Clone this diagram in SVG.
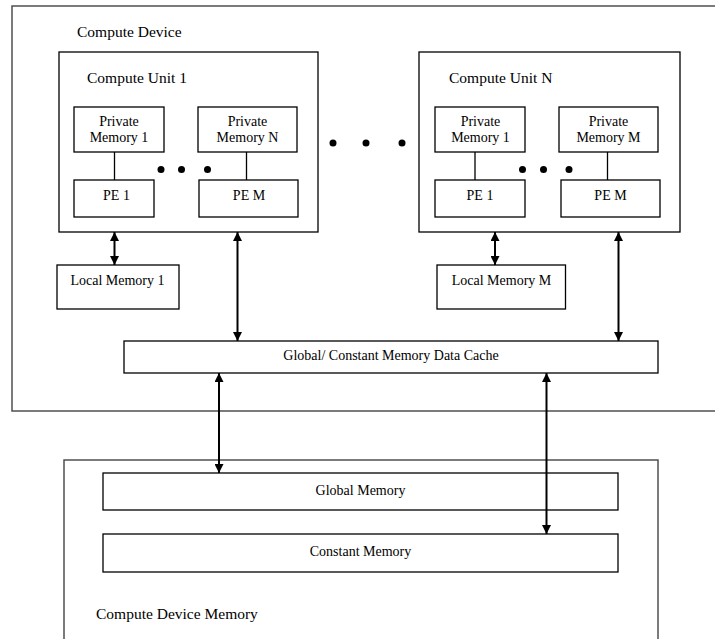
<svg xmlns="http://www.w3.org/2000/svg" width="715" height="639" viewBox="0 0 715 639">
<style>
.box{fill:none;stroke:#000;stroke-width:1.3}
.outer{fill:none;stroke:#444;stroke-width:1.4}
.t{font-family:"Liberation Serif","Times New Roman",serif;font-size:15.5px;fill:#000}
.l{font-family:"Liberation Serif","Times New Roman",serif;font-size:14px;fill:#000;text-anchor:middle}
.ln{stroke:#000;stroke-width:1.3}
.ar{stroke:#000;stroke-width:2;marker-start:url(#ah);marker-end:url(#ah)}
</style>
<defs>
<marker id="ah" viewBox="0 0 10 10" refX="10" refY="5" markerWidth="10" markerHeight="9" markerUnits="userSpaceOnUse" orient="auto-start-reverse">
<path d="M0,0 L10,5 L0,10 z" fill="#000"/>
</marker>
</defs>
<rect width="715" height="639" fill="#fff"/>

<g id="compute-device">
<rect class="outer" x="12" y="6" width="720" height="405"/>
<text class="t" x="77" y="37">Compute Device</text>
</g>

<g id="compute-unit-1">
<rect class="box" x="59" y="52" width="259" height="180"/>
<text class="t" x="87" y="83">Compute Unit 1</text>
</g>
<g id="cu1-private-memory-1">
<rect class="box" x="74" y="107" width="90" height="45"/>
<text class="l" x="119" y="126">Private</text>
<text class="l" x="119" y="142">Memory 1</text>
</g>
<g id="cu1-private-memory-n">
<rect class="box" x="198" y="107" width="99" height="45"/>
<text class="l" x="247.5" y="126">Private</text>
<text class="l" x="247.5" y="142">Memory N</text>
</g>
<g id="cu1-pe-1">
<rect class="box" x="74" y="180" width="80" height="37"/>
<text class="l" x="116.5" y="200">PE 1</text>
</g>
<g id="cu1-pe-m">
<rect class="box" x="199" y="180" width="99" height="37"/>
<text class="l" x="249" y="200">PE M</text>
</g>
<g id="cu1-dots">
<circle cx="161" cy="169.5" r="3.5"/>
<circle cx="181.5" cy="169.5" r="3.5"/>
<circle cx="207.5" cy="169.5" r="3.5"/>
</g>

<g id="unit-dots">
<circle cx="333" cy="143" r="3.5"/>
<circle cx="366" cy="143" r="3.5"/>
<circle cx="402" cy="143" r="3.5"/>
</g>

<g id="compute-unit-n">
<rect class="box" x="419" y="52" width="261" height="180"/>
<text class="t" x="449" y="83">Compute Unit N</text>
</g>
<g id="cun-private-memory-1">
<rect class="box" x="435" y="107" width="90" height="45"/>
<text class="l" x="480.5" y="126">Private</text>
<text class="l" x="480.5" y="142">Memory 1</text>
</g>
<g id="cun-private-memory-m">
<rect class="box" x="559" y="107" width="99" height="45"/>
<text class="l" x="608.5" y="126">Private</text>
<text class="l" x="608.5" y="142">Memory M</text>
</g>
<g id="cun-pe-1">
<rect class="box" x="435" y="180" width="90" height="37"/>
<text class="l" x="480" y="200">PE 1</text>
</g>
<g id="cun-pe-m">
<rect class="box" x="561" y="180" width="99" height="37"/>
<text class="l" x="610.5" y="200">PE M</text>
</g>
<g id="cun-dots">
<circle cx="522.5" cy="169.5" r="3.5"/>
<circle cx="543.5" cy="169.5" r="3.5"/>
<circle cx="569" cy="169.5" r="3.5"/>
</g>

<g id="local-memory-1">
<rect class="box" x="57" y="265" width="122" height="44"/>
<text class="l" x="117.5" y="285">Local Memory 1</text>
</g>
<g id="local-memory-m">
<rect class="box" x="437" y="265" width="128.5" height="44"/>
<text class="l" x="501.5" y="285">Local Memory M</text>
</g>

<g id="data-cache">
<rect class="box" x="124" y="341" width="534" height="32"/>
<text class="l" x="391" y="360">Global/ Constant Memory Data Cache</text>
</g>

<g id="compute-device-memory">
<rect class="outer" x="64" y="460" width="594" height="200"/>
<text class="t" x="96" y="619">Compute Device Memory</text>
</g>
<g id="global-memory">
<rect class="box" x="103" y="473" width="515" height="37"/>
<text class="l" x="360.5" y="495">Global Memory</text>
</g>
<g id="constant-memory">
<rect class="box" x="103" y="534" width="515" height="38"/>
<text class="l" x="360.5" y="556">Constant Memory</text>
</g>

<g id="connectors">
<line class="ln" x1="114.5" y1="152" x2="114.5" y2="180"/>
<line class="ln" x1="246.5" y1="152" x2="246.5" y2="180"/>
<line class="ln" x1="475" y1="152" x2="475" y2="180"/>
<line class="ln" x1="607.5" y1="152" x2="607.5" y2="180"/>
<line class="ar" x1="114.5" y1="232" x2="114.5" y2="265"/>
<line class="ar" x1="237.5" y1="232" x2="237.5" y2="341"/>
<line class="ar" x1="495" y1="232" x2="495" y2="265"/>
<line class="ar" x1="618.5" y1="232" x2="618.5" y2="341"/>
<line class="ar" x1="219" y1="373" x2="219" y2="473"/>
<line class="ar" x1="546.5" y1="373" x2="546.5" y2="534"/>
</g>
</svg>
